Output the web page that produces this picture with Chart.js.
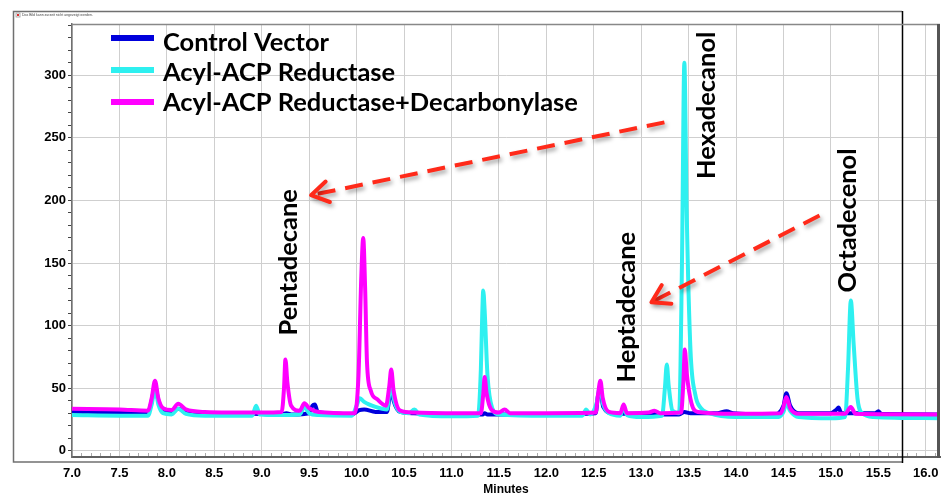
<!DOCTYPE html>
<html><head><meta charset="utf-8">
<script src="https://cdn.jsdelivr.net/npm/chart.js@4/dist/chart.umd.min.js"></script>
<style>html,body{margin:0;padding:0;background:#fff;overflow:hidden}canvas{display:block}</style>
</head><body>
<canvas id="c" width="942" height="498"></canvas>
<script>
// ---- data ----
const seriesNames = ['Control Vector', 'Acyl-ACP Reductase', 'Acyl-ACP Reductase+Decarbonylase'];
const seriesColors = ['#0000dc', '#2ef0f0', '#ff00ff'];

// [minutes, signal]
const controlVector = [[7.00,31],[7.50,30.5],[7.80,30],[7.84,40],[7.875,52],[7.91,40],[7.96,32],[8.05,30.5],[8.12,33.5],[8.20,31],[8.40,29.5],[8.90,29.5],[9.20,29],[9.26,30],[9.32,29],[9.50,30],[9.535,36],[9.56,37],[9.59,31],[9.70,30],[9.95,29],[10.03,32.5],[10.08,33],[10.20,31],[10.32,31],[10.345,42],[10.365,50],[10.39,40],[10.46,31],[10.60,30],[11.00,29],[11.33,29],[11.35,30],[11.38,29],[12.00,29],[12.52,30],[12.545,44],[12.57,48],[12.60,35],[12.70,30],[13.00,29.5],[13.40,29],[13.455,31],[13.52,30],[13.80,30],[13.90,31.5],[13.97,30],[14.40,29],[14.50,36],[14.53,46],[14.57,36],[14.66,30],[15.00,30],[15.06,33],[15.08,34.5],[15.11,30],[15.25,30],[15.47,30],[15.50,31.5],[15.53,29.5],[16.15,29]];

const acylReductase = [[7.00,28.5],[7.50,28],[7.80,28],[7.84,37],[7.875,50],[7.91,37],[7.96,30],[8.05,29],[8.12,33.5],[8.20,29.5],[8.40,28],[8.90,28],[8.94,36],[8.98,29],[9.20,28.5],[9.40,29],[9.45,35],[9.50,30],[9.60,28.5],[9.95,28],[10.00,36],[10.035,42],[10.08,39],[10.20,35],[10.32,33],[10.345,46],[10.365,56],[10.39,42],[10.46,31],[10.55,30],[10.61,33],[10.66,29],[11.00,27.5],[11.28,28],[11.31,65],[11.325,110],[11.335,128],[11.35,112],[11.38,60],[11.43,34],[11.50,29],[12.00,28],[12.38,28],[12.42,33],[12.46,29],[12.53,38],[12.565,51],[12.60,37],[12.66,30],[12.78,28],[12.815,35],[12.85,28.5],[13.00,27],[13.22,28],[13.25,50],[13.27,69],[13.29,52],[13.33,32],[13.40,30],[13.43,150],[13.455,310],[13.48,190],[13.52,80],[13.57,45],[13.63,34],[13.72,30],[14.00,27],[14.45,27],[14.50,31],[14.53,38],[14.57,32],[14.66,27],[15.00,26],[15.15,27],[15.18,65],[15.21,120],[15.24,85],[15.28,42],[15.33,30],[15.45,27],[16.15,26]];

const acylReductaseDecarb = [[7.00,33.5],[7.50,33],[7.80,32],[7.84,42],[7.875,56],[7.91,42],[7.96,34],[8.05,32.5],[8.12,37.5],[8.20,33],[8.40,31],[9.00,30.5],[9.21,31],[9.235,50],[9.25,73],[9.27,55],[9.31,36],[9.40,32],[9.45,38],[9.50,34],[9.60,31],[9.98,30],[10.02,60],[10.05,140],[10.07,170],[10.09,130],[10.11,70],[10.15,48],[10.22,41],[10.31,36],[10.345,52],[10.365,65],[10.39,48],[10.46,32],[10.60,30.5],[11.00,30],[11.31,30],[11.335,45],[11.35,59],[11.37,46],[11.42,33],[11.50,30.5],[11.56,33],[11.62,30],[12.00,30],[12.52,30.5],[12.545,45],[12.57,56],[12.595,42],[12.66,31],[12.78,30],[12.815,37],[12.85,30],[13.08,30.5],[13.14,32],[13.20,30],[13.42,30.5],[13.445,55],[13.46,81],[13.48,62],[13.53,38],[13.60,31],[14.00,29.5],[14.47,30],[14.50,35],[14.53,43],[14.57,34],[14.66,29.5],[15.15,29.5],[15.21,35],[15.26,29.5],[16.15,29]];

const xTickValues = [7.0,7.5,8.0,8.5,9.0,9.5,10.0,10.5,11.0,11.5,12.0,12.5,13.0,13.5,14.0,14.5,15.0,15.5,16.0];
const yTickValues = [0,50,100,150,200,250,300];
const xAxisTitle = 'Minutes';
const peakLabels = [
  {text:'Pentadecane', x:9.29, y:150.6},
  {text:'Heptadecane', x:12.845, y:114.7},
  {text:'Hexadecanol', x:13.687, y:276},
  {text:'Octadecenol', x:15.175, y:184}
];
const arrowLinks = [
  {from:[13.245,262.4], to:[9.52,204.2]},
  {from:[14.88,188], to:[13.108,118.7]}
];
const placeholderText = 'Das Bild kann zurzeit nicht angezeigt werden.';

// ---- chart ----
const allSeries = [controlVector, acylReductase, acylReductaseDecarb];
const datasets = allSeries.map((s, i) => ({
  label: seriesNames[i],
  data: s.map(p => ({x: p[0], y: p[1]})),
  borderColor: seriesColors[i],
  backgroundColor: seriesColors[i],
  borderWidth: 4,
  pointRadius: 0,
  cubicInterpolationMode: 'monotone',
  borderJoinStyle: 'round',
  borderCapStyle: 'round',
  order: 2 - i,
  fill: false
}));

const LABEL_FONT = 'Lato, "Open Sans", sans-serif';
function labelSize(ctx){
  ctx.save();
  ctx.font = 'bold 24px ' + LABEL_FONT;
  const w = ctx.measureText(seriesNames[2]).width;
  ctx.restore();
  return 24 * 415 / w;
}

function drawArrow(ctx, x1, y1, x2, y2){
  ctx.save();
  ctx.strokeStyle = '#ff2a1a';
  ctx.lineWidth = 4;
  ctx.shadowColor = 'rgba(0,0,0,0.35)';
  ctx.shadowBlur = 4;
  ctx.shadowOffsetX = 2;
  ctx.shadowOffsetY = 3;
  ctx.setLineDash([18, 10]);
  ctx.lineCap = 'butt';
  const ang = Math.atan2(y2 - y1, x2 - x1);
  ctx.beginPath();
  ctx.moveTo(x1, y1);
  ctx.lineTo(x2 - Math.cos(ang) * 3, y2 - Math.sin(ang) * 3);
  ctx.stroke();
  ctx.setLineDash([]);
  ctx.lineCap = 'round';
  ctx.lineJoin = 'round';
  const L = 20, sp = 0.55;
  ctx.beginPath();
  ctx.moveTo(x2 - L * Math.cos(ang - sp), y2 - L * Math.sin(ang - sp));
  ctx.lineTo(x2, y2);
  ctx.lineTo(x2 - L * Math.cos(ang + sp), y2 - L * Math.sin(ang + sp));
  ctx.stroke();
  ctx.restore();
}

function noPad(s){ s.paddingLeft = 0; s.paddingRight = 0; s.paddingTop = 0; s.paddingBottom = 0; }

const decor = {
  id: 'decor',
  beforeDatasetsDraw(chart){
    const ctx = chart.ctx, a = chart.chartArea, xs = chart.scales.x;
    ctx.save();
    ctx.strokeStyle = '#aaaaaa';
    ctx.lineWidth = 1;
    for (let k = 71; k <= 161; k++) {
      if (k % 5 === 0) continue;
      const px = Math.round(xs.getPixelForValue(k / 10)) + 0.5;
      ctx.beginPath(); ctx.moveTo(px, a.bottom - 1); ctx.lineTo(px, a.bottom - 4); ctx.stroke();
    }
    ctx.strokeStyle = '#707070';
    ctx.lineWidth = 1.5;
    ctx.beginPath();
    ctx.moveTo(902, 11.5); ctx.lineTo(13.5, 11.5); ctx.lineTo(13.5, 462); ctx.lineTo(902, 462);
    ctx.stroke();
    ctx.strokeStyle = '#000';
    ctx.beginPath(); ctx.moveTo(902.5, 11); ctx.lineTo(902.5, 463); ctx.stroke();
    ctx.strokeStyle = '#999'; ctx.lineWidth = 0.8;
    ctx.strokeRect(16, 13, 4, 4);
    ctx.fillStyle = '#e03030'; ctx.fillRect(17, 14, 2, 2);
    ctx.fillStyle = '#444';
    ctx.font = '3.5px "Liberation Sans", Arial, sans-serif';
    ctx.textBaseline = 'middle';
    ctx.fillText(placeholderText, 22, 15.5);
    ctx.restore();
  },
  afterDraw(chart){
    const ctx = chart.ctx, a = chart.chartArea, xs = chart.scales.x, ys = chart.scales.y;
    ctx.save();
    ctx.strokeStyle = '#888'; ctx.lineWidth = 1.5;
    ctx.beginPath(); ctx.moveTo(a.left, a.top + 0.5); ctx.lineTo(a.right, a.top + 0.5); ctx.stroke();
    ctx.strokeStyle = '#555'; ctx.lineWidth = 3;
    ctx.beginPath(); ctx.moveTo(a.right - 1.5, a.top); ctx.lineTo(a.right - 1.5, a.bottom + 1); ctx.stroke();

    const fs = labelSize(ctx);
    for (let i = 0; i < seriesNames.length; i++) {
      const ly = 38 + i * 32;
      ctx.strokeStyle = seriesColors[i];
      ctx.lineWidth = 6;
      ctx.lineCap = 'butt';
      ctx.beginPath(); ctx.moveTo(111, ly); ctx.lineTo(154, ly); ctx.stroke();
      ctx.fillStyle = '#000';
      ctx.font = 'bold ' + fs.toFixed(2) + 'px ' + LABEL_FONT;
      ctx.textAlign = 'left';
      ctx.textBaseline = 'alphabetic';
      ctx.fillText(seriesNames[i], 163, 51 + i * 30);
    }
    for (const ar of arrowLinks) {
      drawArrow(ctx, xs.getPixelForValue(ar.from[0]), ys.getPixelForValue(ar.from[1]),
                     xs.getPixelForValue(ar.to[0]), ys.getPixelForValue(ar.to[1]));
    }
    ctx.fillStyle = '#000';
    ctx.font = 'bold ' + fs.toFixed(2) + 'px ' + LABEL_FONT;
    ctx.textAlign = 'center';
    ctx.textBaseline = 'middle';
    for (const p of peakLabels) {
      ctx.save();
      ctx.translate(xs.getPixelForValue(p.x), ys.getPixelForValue(p.y));
      ctx.rotate(-Math.PI / 2);
      ctx.fillText(p.text, 0, 0);
      ctx.restore();
    }
    ctx.restore();
  }
};

new Chart(document.getElementById('c'), {
  type: 'line',
  data: { datasets },
  plugins: [decor],
  options: {
    responsive: false,
    animation: false,
    events: [],
    layout: { padding: { top: 24, right: 2, left: 0, bottom: 0 } },
    plugins: { legend: { display: false }, tooltip: { enabled: false }, title: { display: false } },
    scales: {
      x: {
        type: 'linear', min: 7.0, max: 16.15,
        afterFit(s){ s.height = 41; noPad(s); },
        afterBuildTicks(s){ s.ticks = xTickValues.map(v => ({value: v})); },
        grid: { color: '#cfcfcf', lineWidth: 1, drawTicks: false },
        border: { display: true, color: '#606060', width: 2 },
        ticks: {
          autoSkip: false, maxRotation: 0, padding: 9, color: '#000',
          font: { family: '"Liberation Sans Narrow", "Arial Narrow", sans-serif', size: 13, weight: 'bold' },
          callback: v => Number(v).toFixed(1)
        },
        title: {
          display: true, text: xAxisTitle, color: '#000',
          font: { family: '"Liberation Sans Narrow", "Arial Narrow", sans-serif', size: 12, weight: 'bold' },
          padding: { top: 0, bottom: 1 }
        }
      },
      y: {
        type: 'linear', min: -5, max: 341,
        afterFit(s){ s.width = 72; noPad(s); },
        afterBuildTicks(s){
          const t = [];
          for (let v = 0; v <= 340; v += 10) t.push({value: v});
          s.ticks = t;
        },
        grid: {
          color: c => (c.tick && yTickValues.includes(c.tick.value)) ? '#cfcfcf' : 'rgba(0,0,0,0)',
          lineWidth: 1, drawTicks: true, tickLength: 4, tickColor: '#444', tickWidth: 1
        },
        border: { display: true, color: '#707070', width: 1.5 },
        ticks: {
          autoSkip: false, padding: 2, color: '#000',
          font: { family: '"Liberation Sans", Arial, sans-serif', size: 13, weight: 'bold' },
          callback: v => yTickValues.includes(v) ? String(v) : ''
        }
      }
    }
  }
});
</script>
</body></html>
